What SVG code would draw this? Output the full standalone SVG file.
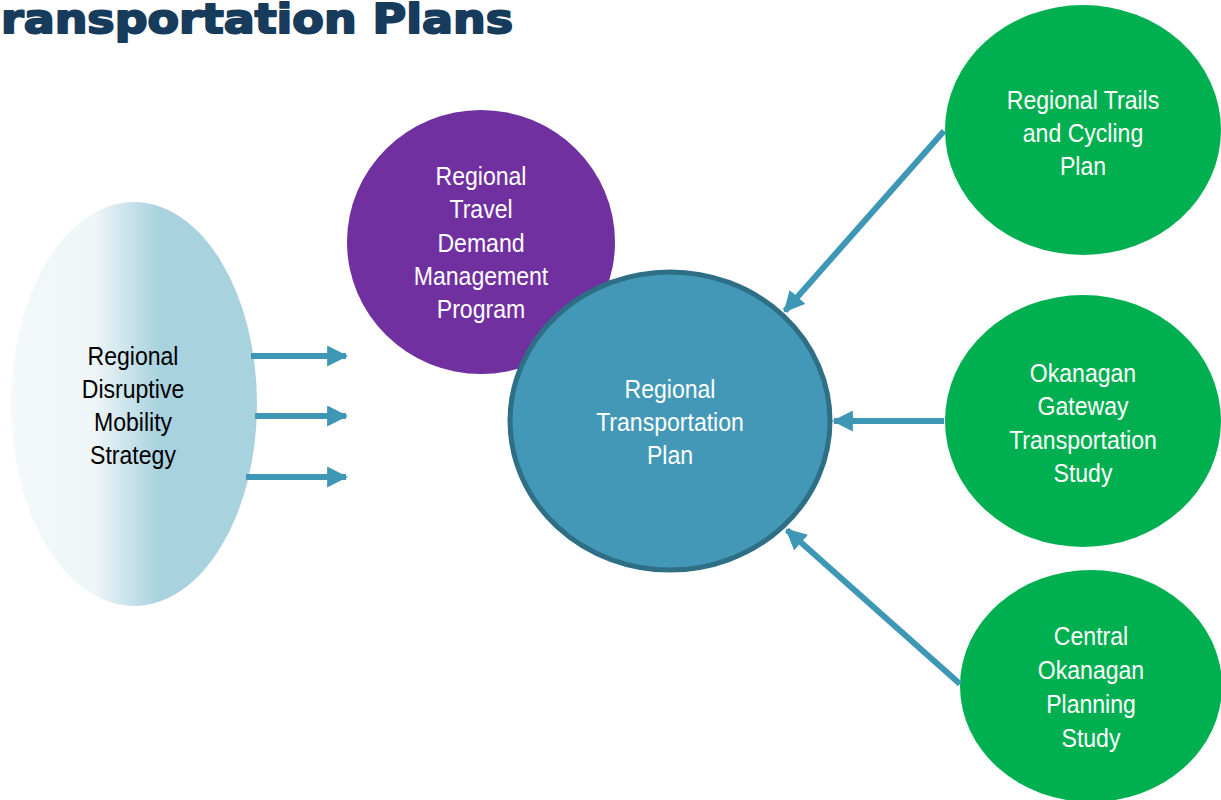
<svg xmlns="http://www.w3.org/2000/svg" width="1221" height="800" viewBox="0 0 1221 800">
<defs>
<linearGradient id="gL" x1="11" y1="0" x2="257" y2="0" gradientUnits="userSpaceOnUse">
<stop offset="0" stop-color="#f4f9fa"/>
<stop offset="0.34" stop-color="#eef6f8"/>
<stop offset="0.6" stop-color="#a9d2df"/>
<stop offset="1" stop-color="#a9d2df"/>
</linearGradient>
<marker id="ah" viewBox="0 0 10 10" refX="9" refY="5" markerWidth="3.5" markerHeight="3.5" orient="auto" markerUnits="strokeWidth">
<path d="M0,0 L10,5 L0,10 Z" fill="#3f97b6"/>
</marker>
<style>
.lbl{font-family:"Liberation Sans",Arial,sans-serif;font-size:26.5px;text-anchor:middle}
.w{fill:#ffffff}
.k{fill:#000000}
.conn{stroke:#3f97b6;stroke-width:6;fill:none;marker-end:url(#ah)}
</style>
</defs>
<rect width="1221" height="800" fill="#ffffff"/>
<text x="1" y="33" font-family="'DejaVu Sans',sans-serif" font-weight="900" font-size="41" fill="#173b5b" stroke="#173b5b" stroke-width="2" stroke-linejoin="round" textLength="512" lengthAdjust="spacingAndGlyphs">ransportation Plans</text>

<g id="node-disruptive">
<ellipse cx="134" cy="404" rx="123" ry="202" fill="url(#gL)"/>
<text class="lbl k" transform="translate(133 0) scale(0.87 1)"><tspan x="0" y="365">Regional</tspan><tspan x="0" y="398">Disruptive</tspan><tspan x="0" y="431">Mobility</tspan><tspan x="0" y="464">Strategy</tspan></text>
</g>

<g id="node-tdm">
<ellipse cx="481" cy="242" rx="134" ry="132" fill="#7030a0"/>
<text class="lbl w" transform="translate(481 0) scale(0.87 1)"><tspan x="0" y="185">Regional</tspan><tspan x="0" y="218">Travel</tspan><tspan x="0" y="252">Demand</tspan><tspan x="0" y="285">Management</tspan><tspan x="0" y="318">Program</tspan></text>
</g>

<g id="node-rtp">
<ellipse cx="670" cy="421" rx="160" ry="149" fill="#4398b7" stroke="#2e6f86" stroke-width="5"/>
<text class="lbl w" transform="translate(670 0) scale(0.87 1)"><tspan x="0" y="398">Regional</tspan><tspan x="0" y="431">Transportation</tspan><tspan x="0" y="464">Plan</tspan></text>
</g>

<g id="node-trails">
<ellipse cx="1083" cy="130" rx="138" ry="125" fill="#00b050"/>
<text class="lbl w" transform="translate(1083 0) scale(0.87 1)"><tspan x="0" y="109">Regional Trails</tspan><tspan x="0" y="142">and Cycling</tspan><tspan x="0" y="175">Plan</tspan></text>
</g>

<g id="node-gateway">
<ellipse cx="1083" cy="421" rx="138" ry="126" fill="#00b050"/>
<text class="lbl w" transform="translate(1083 0) scale(0.87 1)"><tspan x="0" y="382">Okanagan</tspan><tspan x="0" y="415">Gateway</tspan><tspan x="0" y="449">Transportation</tspan><tspan x="0" y="482">Study</tspan></text>
</g>

<g id="node-central">
<ellipse cx="1091" cy="686" rx="131" ry="116" fill="#00b050"/>
<text class="lbl w" transform="translate(1091 0) scale(0.87 1)"><tspan x="0" y="645">Central</tspan><tspan x="0" y="679">Okanagan</tspan><tspan x="0" y="713">Planning</tspan><tspan x="0" y="747">Study</tspan></text>
</g>

<g id="connectors">
<line class="conn" x1="251" y1="356" x2="346" y2="356"/>
<line class="conn" x1="255" y1="416" x2="346" y2="416"/>
<line class="conn" x1="246" y1="477" x2="346" y2="477"/>
<line class="conn" x1="944" y1="131" x2="785" y2="311"/>
<line class="conn" x1="944" y1="421" x2="834" y2="421"/>
<line class="conn" x1="960" y1="684" x2="787" y2="530"/>
</g>
</svg>
